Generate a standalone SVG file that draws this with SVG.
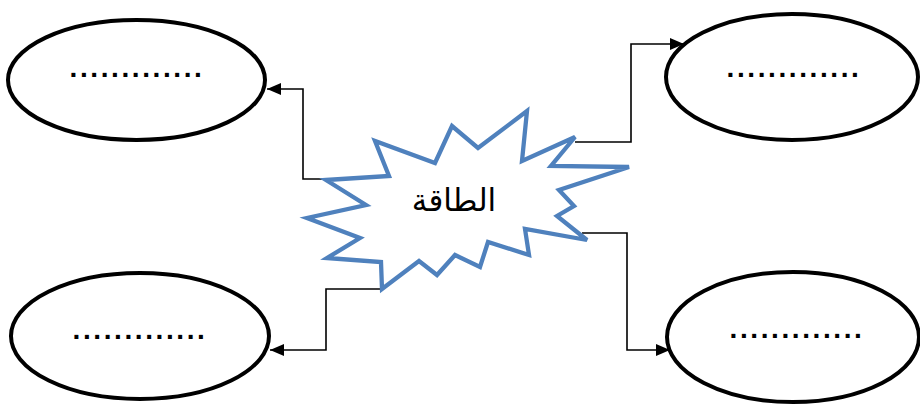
<svg xmlns="http://www.w3.org/2000/svg" width="920" height="405" viewBox="0 0 920 405">
<style>
.oval{fill:#fff;stroke:#000;stroke-width:4}
.dots{font-family:"Liberation Sans",Arial,sans-serif;font-size:28px;font-weight:bold;letter-spacing:2.6px;fill:#000;text-anchor:middle}
.conn{fill:none;stroke:#000;stroke-width:1.6}
.star{fill:#fff;stroke:#4f81bd;stroke-width:4.3;stroke-linejoin:miter}
.lbl{font-family:"DejaVu Sans","Noto Sans",sans-serif;font-size:31px;fill:#000;text-anchor:middle}
</style>
<defs>
<marker id="arr" markerWidth="14" markerHeight="12" refX="14" refY="6" orient="auto" markerUnits="userSpaceOnUse">
<path d="M0,0 L14,6 L0,12 Z" fill="#000"/>
</marker>
</defs>
<rect width="920" height="405" fill="#fff"/>
<g id="node-top-left">
<ellipse class="oval" cx="136.5" cy="80" rx="128.5" ry="60"/>
<text class="dots" x="137" y="77">.............</text>
</g>
<g id="node-top-right">
<ellipse class="oval" cx="792" cy="77" rx="126" ry="63"/>
<text class="dots" x="794" y="77">.............</text>
</g>
<g id="node-bottom-left">
<ellipse class="oval" cx="140" cy="336" rx="129" ry="63"/>
<text class="dots" x="140" y="339">.............</text>
</g>
<g id="node-bottom-right">
<ellipse class="oval" cx="793" cy="337" rx="126" ry="65"/>
<text class="dots" x="797" y="338">.............</text>
</g>
<g id="connectors">
<path class="conn" d="M340,179 H303 V89 H267" marker-end="url(#arr)"/>
<path class="conn" d="M575,142 H631 V44 H684" marker-end="url(#arr)"/>
<path class="conn" d="M383,289 H326 V350 H270" marker-end="url(#arr)"/>
<path class="conn" d="M582,233 H627 V350 H670" marker-end="url(#arr)"/>
</g>
<g id="node-center">
<polygon class="star" points="326,180 389,176 375,141 435,163 452,126 478,148 527,111 522,161 575,137 551,166 629,167 559,190 574,206 557,216 587,240 525,229 529,255 488,242 480,267 455,255 437,275 419,261 382,289 381,262 327,258 360,238 307,218 366,205"/>
<text class="lbl" x="454" y="211">الطاقة</text>
</g>
</svg>
